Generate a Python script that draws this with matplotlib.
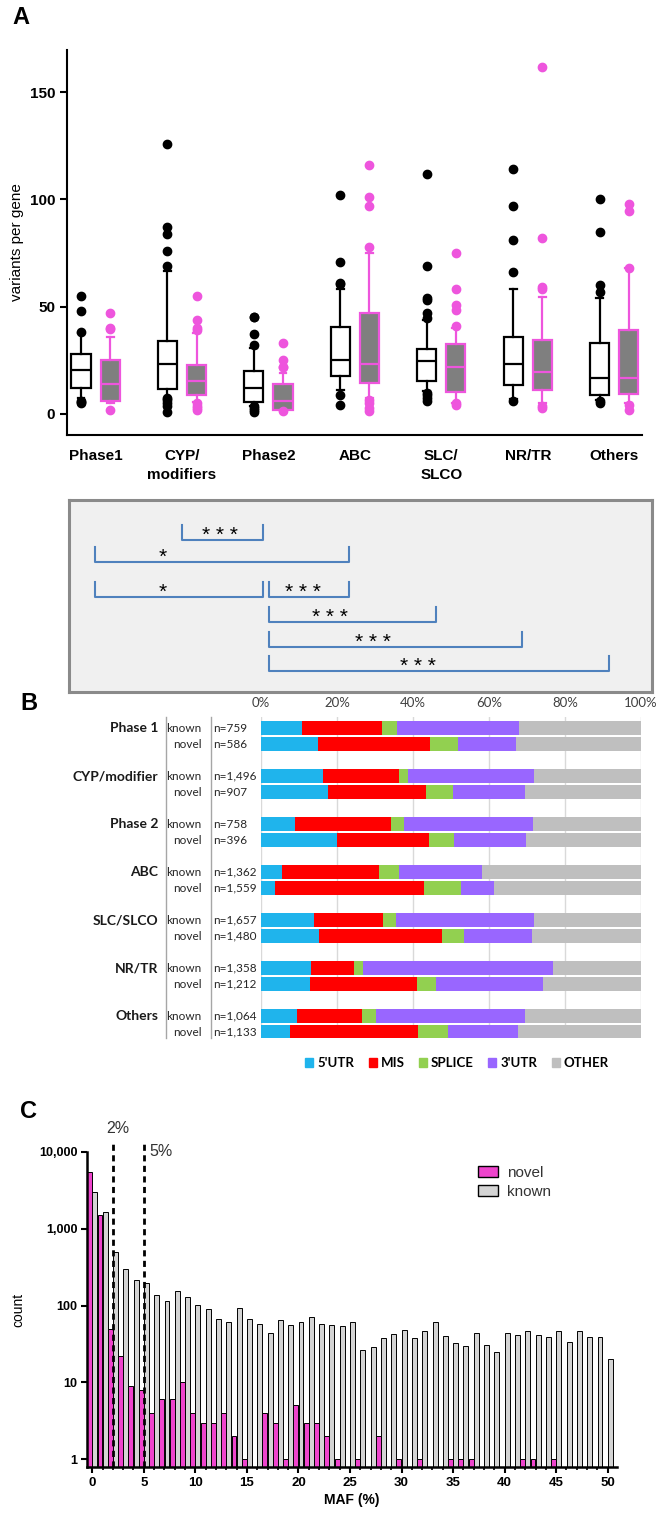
import numpy as np
import matplotlib
matplotlib.use('Agg')
import matplotlib.pyplot as plt
from matplotlib.patches import Patch

# ---------------- Panel A data: variants per gene (box summaries) ----------------
groups = ['Phase1', 'CYP/\nmodifiers', 'Phase2', 'ABC', 'SLC/\nSLCO', 'NR/TR', 'Others']

known_q1 = [12.1, 11.6, 5.4, 17.5, 15.2, 13.7, 8.7]
known_med = [20.6, 23.3, 12.1, 25.0, 24.5, 23.4, 16.8]
known_q3 = [28.0, 33.9, 20.2, 40.4, 30.4, 36.0, 33.0]
known_whislo = [7.5, 7.0, 3.5, 11.0, 10.5, 7.0, 6.5]
known_whishi = [37.7, 66.5, 30.7, 58.2, 43.6, 58.2, 54.0]
known_fliers = [[55, 48, 38, 6, 5, 5.5],
                [126, 87, 84, 76, 69, 6.7, 5, 7.5, 3.6, 0.8],
                [45, 45, 37.3, 32.3, 3.6, 1, 2, 3],
                [102, 70.8, 61, 60.7, 9, 4.3],
                [112, 69, 54, 53, 47, 44.7, 9.8, 9, 7.5, 5.9],
                [114, 97, 81, 66, 5.9],
                [100, 85, 60, 57, 5.9, 5]]

novel_q1 = [6.2, 8.7, 2.0, 14.4, 10.1, 11.0, 9.5]
novel_med = [14.0, 15.2, 5.9, 23.3, 21.9, 19.4, 16.8]
novel_q3 = [25.3, 22.7, 14.0, 47.0, 32.6, 34.6, 39.3]
novel_whislo = [5.0, 5.5, 1.5, 7.5, 5.0, 5.0, 5.0]
novel_whishi = [35.7, 37.5, 19.0, 75.0, 40.0, 54.5, 68.0]
novel_fliers = [[47, 40, 39.5, 2],
                [55, 44, 40, 39, 5, 3.6, 2.8, 2],
                [33, 25.3, 22, 21.7, 1.5],
                [115.8, 101, 97, 78, 6.7, 5, 2.8, 1.2],
                [75, 58, 51, 48.6, 41, 4.3, 5],
                [161.8, 82, 59, 58, 3.6, 2.8],
                [98, 94.7, 68, 4.3, 2]]

# significance comparisons (group index a, group index b, label)
comparisons = [(1, 2, '* * *'), (0, 3, '*'), (0, 2, '*'), (2, 3, '* * *'),
               (2, 4, '* * *'), (2, 5, '* * *'), (2, 6, '* * *')]
bracket_rows = [540, 562, 597, 597, 622, 647, 671]
star_x = [1.44, 0.78, 0.78, 2.4, 2.71, 3.2, 3.72]

# ---------------- Panel B data: variant class composition (%) ----------------
b_groups = ['Phase 1', 'CYP/modifier', 'Phase 2', 'ABC', 'SLC/SLCO', 'NR/TR', 'Others']
b_known_n = ['n=759', 'n=1,496', 'n=758', 'n=1,362', 'n=1,657', 'n=1,358', 'n=1,064']
b_novel_n = ['n=586', 'n=907', 'n=396', 'n=1,559', 'n=1,480', 'n=1,212', 'n=1,133']
classes = ["5'UTR", 'MIS', 'SPLICE', "3'UTR", 'OTHER']
class_colors = ['#1fb4ec', '#ff0000', '#92d050', '#9966ff', '#bfbfbf']
known_pct = [[10.9, 20.9, 3.9, 32.3, 32.0],
             [16.2, 20.1, 2.5, 33.1, 28.1],
             [9.0, 25.3, 3.2, 34.0, 28.5],
             [5.5, 25.5, 5.3, 21.8, 41.9],
             [13.9, 18.1, 3.5, 36.3, 28.2],
             [13.2, 11.4, 2.3, 49.9, 23.2],
             [9.4, 17.2, 3.7, 39.3, 30.4]]
novel_pct = [[14.9, 29.6, 7.3, 15.2, 33.0],
             [17.7, 25.8, 6.9, 19.1, 30.5],
             [19.9, 24.3, 6.6, 18.9, 30.3],
             [3.8, 39.1, 9.6, 8.7, 38.8],
             [15.3, 32.3, 5.8, 17.9, 28.7],
             [13.0, 28.0, 5.0, 28.3, 25.7],
             [7.7, 33.7, 7.7, 18.6, 32.3]]

# ---------------- Panel C data: MAF histogram ----------------
maf_bins = np.arange(0, 51)
novel_counts = [5500, 1500, 50, 22, 9, 8, 4, 6, 6, 10, 4, 3, 3, 4, 2, 1, 0, 4, 3, 1,
                5, 3, 3, 2, 1, 0, 1, 0, 2, 0, 1, 0, 1, 0, 0, 1, 1, 1, 0, 0,
                0, 0, 1, 1, 0, 1, 0, 0, 0, 0, 0]
known_counts = [3000, 1650, 500, 295, 218, 194, 138, 113, 154, 128, 101, 90, 66, 62, 92, 66,
                58, 44, 65, 56, 62, 72, 58, 56, 54, 62, 26, 29, 38, 42, 48, 38, 47, 62,
                40, 33, 30, 44, 31, 25, 44, 41, 46, 41, 39, 46, 34, 46, 39, 39, 20]
maf_cutoffs = [2, 5]
cutoff_labels = ['2%', '5%']

PINK = '#ee55dd'
W, H = 660, 1513
SANS = ['Liberation Sans', 'DejaVu Sans']
CAL = ['Lato', 'DejaVu Sans']


def fig_rect(left, top, right, bottom):
    return [left / W, 1 - bottom / H, (right - left) / W, (bottom - top) / H]


fig = plt.figure(figsize=(W / 100, H / 100), dpi=100)
plt.rcParams['font.family'] = SANS

# ======================= Panel A =======================
ax = fig.add_axes(fig_rect(67, 50, 642, 435))
pos = np.arange(len(groups))
known_stats, novel_stats = [], []
for i in range(len(groups)):
    known_stats.append(dict(q1=known_q1[i], med=known_med[i], q3=known_q3[i],
                            whislo=known_whislo[i], whishi=known_whishi[i],
                            fliers=known_fliers[i]))
    novel_stats.append(dict(q1=novel_q1[i], med=novel_med[i], q3=novel_q3[i],
                            whislo=novel_whislo[i], whishi=novel_whishi[i],
                            fliers=novel_fliers[i]))

ax.bxp(known_stats, positions=pos - 0.168, widths=0.22, patch_artist=True,
       capwidths=0.08,
       boxprops=dict(facecolor='white', edgecolor='black', linewidth=1.6),
       medianprops=dict(color='black', linewidth=1.6),
       whiskerprops=dict(color='black', linewidth=1.6),
       capprops=dict(color='black', linewidth=1.6),
       flierprops=dict(marker='o', markerfacecolor='black', markeredgecolor='black',
                       markersize=6))
ax.bxp(novel_stats, positions=pos + 0.168, widths=0.22, patch_artist=True,
       capwidths=0.08,
       boxprops=dict(facecolor='#7f7f7f', edgecolor=PINK, linewidth=1.6),
       medianprops=dict(color=PINK, linewidth=1.6),
       whiskerprops=dict(color=PINK, linewidth=1.6),
       capprops=dict(color=PINK, linewidth=1.6),
       flierprops=dict(marker='o', markerfacecolor=PINK, markeredgecolor=PINK,
                       markersize=6))
ax.set_xlim(-0.33, 6.32)
ax.set_ylim(-9.8, 169.6)
ax.set_yticks([0, 50, 100, 150])
ax.set_xticks(pos)
ax.set_xticklabels(groups, fontweight='bold', fontsize=11, linespacing=1.45, va='top')
ax.tick_params(axis='x', length=0, pad=10)
ax.tick_params(axis='y', length=5, width=1.5, labelsize=11)
for lab in ax.get_yticklabels():
    lab.set_fontweight('bold')
ax.spines['top'].set_visible(False)
ax.spines['right'].set_visible(False)
for s in ['left', 'bottom']:
    ax.spines[s].set_linewidth(1.5)
ax.set_ylabel('variants per gene', fontsize=11, labelpad=4)
fig.text(12 / W, 1 - 17 / H, 'A', fontsize=17, fontweight='bold', va='center')

# significance box
axs = fig.add_axes(fig_rect(69, 500, 652, 692))
axs.set_facecolor('#f0f0f0')
axs.set_xlim(-0.306, 6.43)
axs.set_ylim(692, 500)
axs.set_xticks([])
axs.set_yticks([])
for s in axs.spines.values():
    s.set_color('#8a8a8a')
    s.set_linewidth(2.2)
for (a, b, lab), yr, sx in zip(comparisons, bracket_rows, star_x):
    x0, x1 = a, b - 0.07
    axs.plot([x0, x0, x1, x1], [yr - 15, yr, yr, yr - 15], color='#4f81bd', lw=1.5)
    axs.text(sx, yr + 1, lab, ha='center', va='baseline', fontsize=15, color='black')

# ======================= Panel B =======================
axb = fig.add_axes(fig_rect(261, 717, 641, 1038))
axb.set_xlim(0, 100)
axb.set_ylim(19.375, -0.69)
for g in range(len(b_groups)):
    for row, pcts in ((3 * g, known_pct[g]), (3 * g + 1, novel_pct[g])):
        left = 0
        for c, v in enumerate(pcts):
            axb.barh(row, v, left=left, height=0.84, color=class_colors[c],
                     edgecolor='none', zorder=2)
            left += v
for gx in [0, 20, 40, 60, 80, 100]:
    axb.axvline(gx, color='#d9d9d9', lw=1, zorder=1)
axb.xaxis.tick_top()
axb.set_xticks([0, 20, 40, 60, 80, 100])
axb.set_xticklabels(['0%', '20%', '40%', '60%', '80%', '100%'], fontsize=9.5,
                    color='#404040', family=CAL)
axb.tick_params(axis='x', length=0, pad=6)
axb.set_yticks([])
for s in axb.spines.values():
    s.set_visible(False)
for g, name in enumerate(b_groups):
    axb.text(-27.1, 3 * g, name, ha='right', va='center', fontsize=10,
             fontweight='bold', family=CAL, color='#1a1a1a')
    axb.text(-15.6, 3 * g, 'known', ha='right', va='center', fontsize=8.5,
             family=CAL, color='#262626')
    axb.text(-15.6, 3 * g + 1, 'novel', ha='right', va='center', fontsize=8.5,
             family=CAL, color='#262626')
    axb.text(-12.6, 3 * g, b_known_n[g], ha='left', va='center', fontsize=8.5,
             family=CAL, color='#262626')
    axb.text(-12.6, 3 * g + 1, b_novel_n[g], ha='left', va='center', fontsize=8.5,
             family=CAL, color='#262626')
for sx in [-25.0, -13.2]:
    axb.plot([sx, sx], [-0.69, 19.375], color='#a6a6a6', lw=1, clip_on=False)
handles = [Patch(color=c, label=l) for c, l in zip(class_colors, classes)]
fig.legend(handles=handles, loc='center', bbox_to_anchor=(457 / W, 1 - 1063 / H),
           ncol=5, frameon=False, handlelength=0.6, handleheight=0.6,
           handletextpad=0.3, columnspacing=1.1,
           prop=dict(family=CAL, weight='bold', size=9.5))
fig.text(20 / W, 1 - 703 / H, 'B', fontsize=17, fontweight='bold', va='center')

# ======================= Panel C =======================
axc = fig.add_axes(fig_rect(87, 1152, 617, 1467))
nc = np.array(novel_counts, dtype=float)
kc = np.array(known_counts, dtype=float)
mask = nc > 0
axc.bar(maf_bins[mask] - 0.25, nc[mask], width=0.48, color='#ee44cc',
        edgecolor='black', linewidth=0.7, zorder=2, label='novel')
axc.bar(maf_bins + 0.25, kc, width=0.48, color='#d4d4d4',
        edgecolor='black', linewidth=0.7, zorder=1, label='known')
axc.set_yscale('log')
axc.set_xlim(-0.51, 50.9)
axc.set_ylim(0.79, 10000)
axc.set_yticks([1, 10, 100, 1000, 10000])
axc.set_yticklabels(['1', '10', '100', '1,000', '10,000'], fontweight='bold', fontsize=9)
axc.yaxis.set_minor_locator(matplotlib.ticker.NullLocator())
axc.set_xticks(np.arange(0, 51, 5))
axc.set_xticks(np.arange(0, 51, 1), minor=True)
for lab in axc.get_xticklabels():
    lab.set_fontweight('bold')
    lab.set_fontsize(9.5)
axc.tick_params(axis='both', which='major', length=4, width=1.5, pad=3)
axc.tick_params(axis='x', which='minor', length=2.5, width=1.2)
axc.spines['top'].set_visible(False)
axc.spines['right'].set_visible(False)
for s in ['left', 'bottom']:
    axc.spines[s].set_linewidth(1.8)
for xc, lab in zip(maf_cutoffs, cutoff_labels):
    axc.plot([xc, xc], [0.79, 14000], color='black', lw=2, ls=(0, (2.2, 1.6)),
             clip_on=False, zorder=3)
axc.text(maf_cutoffs[0] + 0.45, 20000, cutoff_labels[0], ha='center', va='center',
         fontsize=11.5, color='#333333')
axc.text(maf_cutoffs[1] + 0.55, 10000, cutoff_labels[1], ha='left', va='center',
         fontsize=11.5, color='#333333')
axc.set_xlabel('MAF (%)', fontweight='bold', fontsize=10, labelpad=3)
axc.set_ylabel('count', fontsize=10, labelpad=10)
hc = [Patch(facecolor='#ee44cc', edgecolor='black', label='novel'),
      Patch(facecolor='#d4d4d4', edgecolor='black', label='known')]
fig.legend(handles=hc, loc='upper left', bbox_to_anchor=(470 / W, 1 - 1158 / H),
           frameon=False, borderpad=0, handlelength=1.3, handleheight=0.75,
           handletextpad=0.6, labelspacing=0.35, fontsize=11, labelcolor='#333333')
fig.text(20 / W, 1 - 1112 / H, 'C', fontsize=17, fontweight='bold', va='center')

fig.savefig('out.png', dpi=100)
